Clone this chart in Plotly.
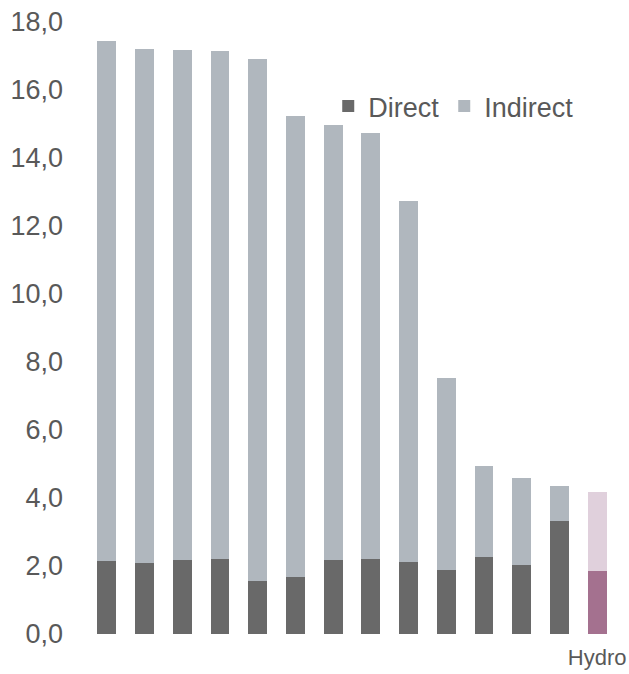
import plotly.graph_objects as go

# Bar positions (14 sources); only the last one is labelled
positions = list(range(1, 15))
tick_labels = [""] * 13 + ["Hydro"]

direct = [2.16, 2.08, 2.19, 2.21, 1.57, 1.68, 2.18, 2.20, 2.12, 1.88, 2.26, 2.02, 3.32, 1.85]
totals = [17.45, 17.20, 17.19, 17.14, 16.91, 15.24, 14.96, 14.74, 12.74, 7.52, 4.95, 4.58, 4.35, 4.18]
indirect = [round(t - d, 2) for t, d in zip(totals, direct)]

y_ticks = [0, 2, 4, 6, 8, 10, 12, 14, 16, 18]
y_tick_text = ["0,0", "2,0", "4,0", "6,0", "8,0", "10,0", "12,0", "14,0", "16,0", "18,0"]

DARK = "#696969"
LIGHT = "#b0b7be"
HYDRO_DARK = "#a4718f"
HYDRO_LIGHT = "#e0d0dc"
TEXT = "#595959"

direct_colors = [DARK] * 13 + [HYDRO_DARK]
indirect_colors = [LIGHT] * 13 + [HYDRO_LIGHT]

fig = go.Figure()
fig.add_trace(go.Bar(
    x=positions, y=direct, name="Direct",
    marker=dict(color=direct_colors, line=dict(width=0)),
))
fig.add_trace(go.Bar(
    x=positions, y=indirect, name="Indirect",
    marker=dict(color=indirect_colors, line=dict(width=0)),
))

fig.update_layout(
    barmode="stack",
    bargap=0.5,
    width=629,
    height=674,
    margin=dict(l=88, r=13, t=22, b=40, autoexpand=False),
    paper_bgcolor="white",
    plot_bgcolor="white",
    font=dict(family="Liberation Sans, Arial, sans-serif", color=TEXT),
    showlegend=True,
    legend=dict(
        orientation="h",
        x=0.455, y=0.862, xanchor="left", yanchor="middle",
        font=dict(size=27, color=TEXT),
        bgcolor="rgba(0,0,0,0)",
        traceorder="normal",
        itemwidth=30,
    ),
    xaxis=dict(
        range=[0.5, 14.5],
        tickmode="array",
        tickvals=positions,
        ticktext=tick_labels,
        showgrid=False,
        zeroline=False,
        showline=False,
        ticks="",
        automargin=False,
        tickfont=dict(size=22, color=TEXT),
        ticklabelstandoff=8,
    ),
    yaxis=dict(
        range=[0, 18],
        tickmode="array",
        tickvals=y_ticks,
        ticktext=y_tick_text,
        showgrid=False,
        zeroline=False,
        showline=False,
        ticks="",
        automargin=False,
        tickfont=dict(size=27, color=TEXT),
        ticklabelstandoff=24,
    ),
)

fig.write_html("out.html")
